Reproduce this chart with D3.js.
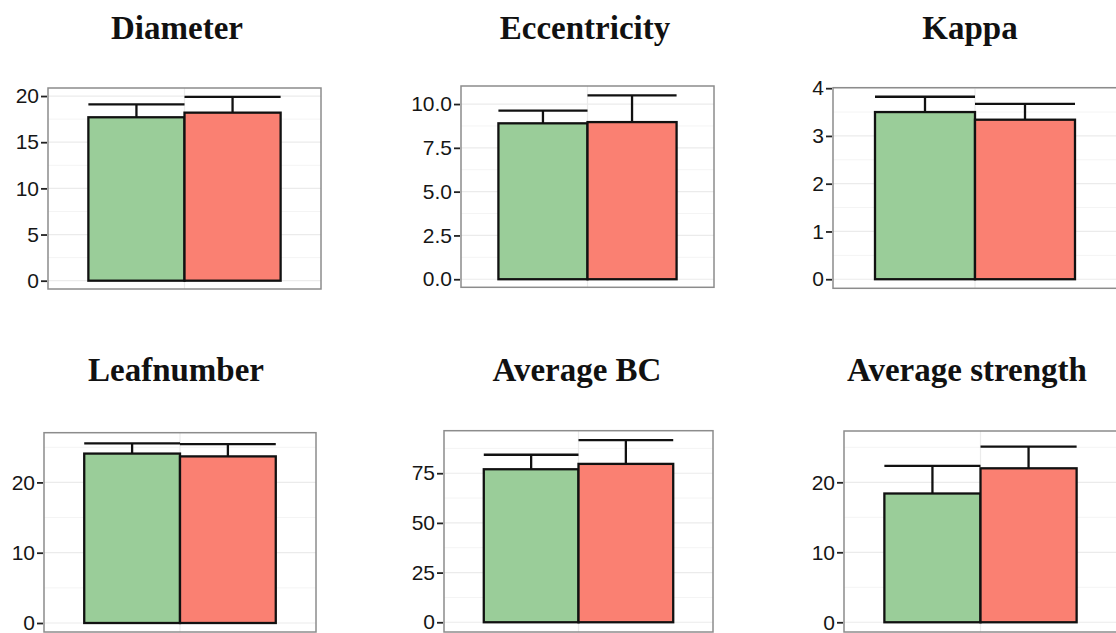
<!DOCTYPE html>
<html>
<head>
<meta charset="utf-8">
<script src="https://cdn.jsdelivr.net/npm/d3@7"></script>
<style>
    body { margin: 0; background: white; }
</style>
</head>
<body>
<div id="chart"></div>
<script>
// values
const panelTitles = ["Diameter", "Eccentricity", "Kappa", "Leafnumber", "Average BC", "Average strength"];
const groups = ["group1", "group2"];
const greenMeans = [17.7, 8.9, 3.50, 24.1, 77.0, 18.4];
const greenErrors = [1.4, 0.72, 0.32, 1.45, 7.3, 3.95];
const redMeans = [18.2, 8.97, 3.34, 23.7, 79.7, 22.0];
const redErrors = [1.7, 1.53, 0.33, 1.75, 12.0, 3.1];
const yTicks = [[0, 5, 10, 15, 20], [0, 2.5, 5, 7.5, 10], [0, 1, 2, 3, 4], [0, 10, 20], [0, 25, 50, 75], [0, 10, 20]];
const tickFormats = ["d", ".1f", "d", "d", "d", "d"];
const yLimits = [[-0.9, 20.87], [-0.46, 11.03], [-0.19, 4.01], [-1.28, 27.07], [-4.9, 96.4], [-1.39, 27.33]];

function renderPanels () {
    const wSvg = 1116;
    const hSvg = 633;

    // layout of each panel (pixel box) and its title
    const boxes = [
        {x0: 48, x1: 321, y0: 88, y1: 289},
        {x0: 461, x1: 714, y0: 86, y1: 287.3},
        {x0: 833, x1: 1117, y0: 87.7, y1: 288.3},
        {x0: 44, x1: 316, y0: 432.7, y1: 632},
        {x0: 444, x1: 713, y0: 430.7, y1: 632},
        {x0: 844, x1: 1117, y0: 431, y1: 632}
    ];
    const titleX = [177, 585, 970, 176, 577, 967];
    const titleY = [39, 39, 39, 381, 381, 381];
    const colors = ["#9ACD99", "#FA8072"];

    let svg = d3.select("#chart")
        .append("svg")
        .attr("width", wSvg)
        .attr("height", hSvg)
        .style("background-color", "white");

    for (let i = 0; i < panelTitles.length; i++) {
        let box = boxes[i];
        let g = svg.append("g");

        let yScale = d3.scaleLinear(yLimits[i], [box.y1, box.y0]);
        let xScale = d3.scaleBand(groups, [box.x0, box.x1]).paddingInner(0).paddingOuter(0.42);

        let rows = [
            {group: groups[0], mean: greenMeans[i], err: greenErrors[i], color: colors[0]},
            {group: groups[1], mean: redMeans[i], err: redErrors[i], color: colors[1]}
        ];

        // minor grid
        let ticks = yTicks[i];
        let step = ticks[1] - ticks[0];
        let minor = [];
        for (let v = ticks[0] + step / 2; v < yLimits[i][1]; v += step) minor.push(v);

        g.selectAll(".minor")
            .data(minor)
            .enter()
            .append("line")
            .attr("x1", box.x0)
            .attr("x2", box.x1)
            .attr("y1", d => yScale(d))
            .attr("y2", d => yScale(d))
            .attr("stroke", "#f4f4f4")
            .attr("stroke-width", 1);

        g.selectAll(".major")
            .data(ticks)
            .enter()
            .append("line")
            .attr("x1", box.x0)
            .attr("x2", box.x1)
            .attr("y1", d => yScale(d))
            .attr("y2", d => yScale(d))
            .attr("stroke", "#ebebeb")
            .attr("stroke-width", 1.2);

        g.append("line")
            .attr("x1", (box.x0 + box.x1) / 2)
            .attr("x2", (box.x0 + box.x1) / 2)
            .attr("y1", box.y0)
            .attr("y2", box.y1)
            .attr("stroke", "#ebebeb")
            .attr("stroke-width", 1.2);

        // error bars (upper only)
        g.selectAll(".errV")
            .data(rows)
            .enter()
            .append("line")
            .attr("x1", d => xScale(d.group) + xScale.bandwidth() / 2)
            .attr("x2", d => xScale(d.group) + xScale.bandwidth() / 2)
            .attr("y1", d => yScale(d.mean))
            .attr("y2", d => yScale(d.mean + d.err))
            .attr("stroke", "#111")
            .attr("stroke-width", 2.3);

        g.selectAll(".errH")
            .data(rows)
            .enter()
            .append("line")
            .attr("x1", d => xScale(d.group))
            .attr("x2", d => xScale(d.group) + xScale.bandwidth())
            .attr("y1", d => yScale(d.mean + d.err))
            .attr("y2", d => yScale(d.mean + d.err))
            .attr("stroke", "#111")
            .attr("stroke-width", 2.3);

        g.selectAll("rect.bar")
            .data(rows)
            .enter()
            .append("rect")
            .attr("class", "bar")
            .attr("x", d => xScale(d.group))
            .attr("width", xScale.bandwidth())
            .attr("y", d => yScale(d.mean))
            .attr("height", d => yScale(0) - yScale(d.mean))
            .attr("fill", d => d.color)
            .attr("stroke", "#111")
            .attr("stroke-width", 2.3);

        // panel border
        g.append("rect")
            .attr("x", box.x0)
            .attr("y", box.y0)
            .attr("width", box.x1 - box.x0)
            .attr("height", box.y1 - box.y0)
            .attr("fill", "none")
            .attr("stroke", "#8c8c8c")
            .attr("stroke-width", 1.5);

        let yAxis = d3.axisLeft(yScale)
            .tickValues(ticks)
            .tickFormat(d3.format(tickFormats[i]))
            .tickSize(6)
            .tickPadding(2);

        let axisG = g.append("g")
            .attr("transform", `translate(${box.x0 - 1}, 0)`)
            .call(yAxis);
        axisG.select(".domain").remove();
        axisG.selectAll(".tick line")
            .attr("stroke", "#222")
            .attr("stroke-width", 1.8);
        axisG.selectAll(".tick text")
            .style("font-family", "'Liberation Sans', Arial, sans-serif")
            .style("font-size", "21px")
            .attr("fill", "#161616");

        svg.append("text")
            .attr("x", titleX[i])
            .attr("y", titleY[i])
            .attr("text-anchor", "middle")
            .style("font-family", "'Liberation Serif', 'Times New Roman', serif")
            .style("font-weight", "bold")
            .style("font-size", "33px")
            .attr("fill", "#111")
            .text(panelTitles[i]);
    }
}

renderPanels();
</script>
</body>
</html>
